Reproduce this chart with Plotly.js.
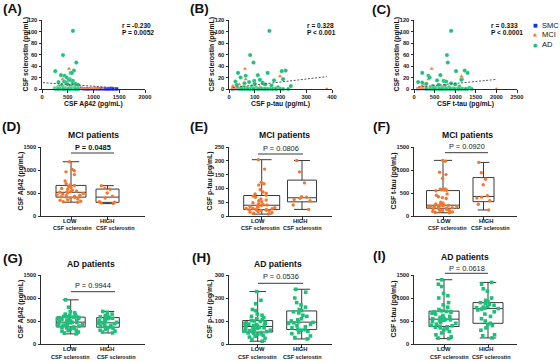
<!DOCTYPE html>
<html>
<head>
<meta charset="utf-8">
<script src="https://cdn.plot.ly/plotly-3.0.1.min.js"></script>
<style>
  html, body { margin: 0; padding: 0; background: #fff; }
  #chart { width: 560px; height: 361px; }
</style>
</head>
<body>
<div id="chart"></div>
<script>
// ---------- Correlation panels: per-patient CSF values ----------
const smcSclerostin = [0,0,1,0,0,0.5,0,0,0,1,0,0,0,0,0.5,0,0,0,0,0,1,0,0,0,0];
const smcAb42 = [620,700,760,820,860,900,930,960,990,1020,1050,1080,1110,1140,1170,1200,1230,1260,1290,1320,1350,1380,1450,880,1000];
const smcPtau = [16,18,20,22,24,26,28,30,32,34,36,38,40,42,44,46,48,50,52,55,58,25,33,41,47];
const smcTtau = [100,120,140,160,180,200,220,240,260,280,300,320,340,360,380,400,130,170,210,250,290,330,150,190,230];

const mciSclerostin = [35,22,17,8,5,4,3,2,2,1, 0,0,0,0,0,0,0,0,0,0,0,0,0,0,0,0,0,0,0,0,0,0,0,0,0,0,0,0,0,0,0,0,0,0,0];
const mciAb42 = [524,440,400,380,350,520,300,600,450,700, 320,350,380,400,420,450,480,500,520,550,580,600,640,680,720,760,800,850,900,950,1000,1050,1100,1180,330,370,460,530,620,700,430,560,660,980,1010];
const mciPtau = [62,198,65,40,15,120,25,180,50,90, 18,22,26,30,34,38,42,46,50,55,60,70,80,85,95,110,115,120,160,170,200,380,24,28,32,36,44,48,52,58,62,75,100,130,140];
const mciTtau = [430,1150,350,250,200,600,150,900,300,500, 90,110,130,150,170,190,210,230,260,290,320,360,400,450,500,560,580,700,900,950,1190,2000,120,140,160,180,200,220,250,280,300,340,380,550,1200];

const adSclerostin = [101,59,46,32,31,28,28,24,23,20,17,16,15,14,13,12,11,10,9,8,7,6,5,4,3,3,2,2,1,1, 0,0,0,0,0,0,0,0,0,0,0,0,0,0,0,0,0,0,0,0,0,0,0,0,0,0,0,0,0,0];
const adAb42 = [600,408,666,620,258,557,580,370,440,480,540,520,560,600,430,320,470,600,650,500,700,380,550,330,640,420,300,580,460,250, 260,280,300,320,340,360,380,400,420,440,460,480,500,520,540,560,580,600,620,640,660,680,700,350,450,550,650,310,410,510];
const adPtau = [157,82,95,220,205,35,150,112,65,45,210,120,175,98,25,78,130,60,100,140,30,165,240,88,55,190,70,105,48,125, 40,55,62,75,85,92,100,110,118,135,145,160,170,185,200,230,45,68,90,125,150,80,60,115,95,140,180,210,50,72];
const adTtau = [900,800,820,1230,1020,200,1300,640,350,380,1160,1150,560,720,780,100,200,900,300,1000,600,750,460,1100,680,850,1350,520,950,420, 300,400,450,500,550,600,650,700,750,800,850,900,950,1000,1050,1100,1200,1300,1400,1250,620,720,880,980,520,480,680,780,1150,1080];

// fitted regression lines (end points)
const ab42FitX = [20, 1450],  ab42FitY = [11, 2];
const ptauFitX = [15, 380],   ptauFitY = [2.5, 21.5];
const ttauFitX = [100, 2000], ttauFitY = [3.2, 16.7];

const corrR = ['r = -0.230', 'r = 0.328', 'r = 0.333'];
const corrP = ['P = 0.0052', 'P < 0.001', 'P < 0.0001'];
const corrXTitles = ['CSF A\u03b242 (pg/mL)', 'CSF p-tau (pg/mL)', 'CSF t-tau (pg/mL)'];
const corrYTitle = 'CSF sclerostin (pg/mL)';
const groupNames = ['SMC', 'MCI', 'AD'];

// ---------- Group comparison panels: LOW vs HIGH CSF sclerostin ----------
const mciAb42Low = [300,310,320,340,350,370,390,400,410,420,430,440,450,460,475,490,505,515,520,530,545,560,580,600,620,640,665,680,700,760,900,960,985,1010,1180];
const mciAb42High = [270,285,300,310,390,430,500,580,600,660];
const mciPtauLow = [7,10,12,14,16,18,20,21,22,23,24,25,26,27,28,30,32,34,36,38,40,42,45,48,52,55,58,62,68,72,75,80,83,87,95,112,117,122,170,204];
const mciPtauHigh = [24,40,55,60,64,68,70,120,160,201];
const mciTtauLow = [70,80,90,100,110,120,130,140,150,160,170,175,180,190,195,200,205,210,220,225,230,240,250,260,280,300,380,400,420,450,480,550,560,565,570,580,590,820,900,950,1190,1209];
const mciTtauHigh = [131,255,330,390,410,440,680,800,940,1165];
const adAb42Low = [220,240,260,280,290,300,320,340,350,360,370,380,390,400,410,420,430,440,450,460,465,470,480,490,500,510,520,530,540,550,560,570,580,585,590,600,610,620,640,650,680,700,800,960];
const adAb42High = [240,260,280,300,320,340,360,370,380,390,400,420,440,450,460,470,490,510,530,550,560,570,580,590,600,620,650,690,707];
const adPtauLow = [12,20,25,30,34,38,42,44,46,48,50,52,54,56,58,60,62,64,66,68,70,72,74,76,78,80,82,84,86,88,90,92,95,98,100,102,105,110,115,120,125,130,145,150,175,190,228];
const adPtauHigh = [22,28,35,45,50,55,60,62,65,70,75,80,85,90,92,94,96,100,105,110,120,125,135,140,145,150,160,170,180,200,225,238];
const adTtauLow = [117,130,160,200,240,270,300,330,350,365,375,385,395,410,430,450,470,490,505,515,525,530,540,550,560,580,600,620,650,670,690,700,705,710,720,750,800,850,900,1000,1050,1100,1250,1300,1397];
const adTtauHigh = [132,180,200,300,350,400,420,450,500,550,600,650,700,740,760,770,780,790,800,820,840,860,880,900,920,950,1000,1150,1200,1300,1339];

const compTitles = ['MCI patients', 'MCI patients', 'MCI patients', 'AD patients', 'AD patients', 'AD patients'];
const compPValues = ['P = 0.0485', 'P = 0.0806', 'P = 0.0920', 'P = 0.9944', 'P = 0.0536', 'P = 0.0618'];
const compYTitles = ['CSF A\u03b242 (pg/mL)', 'CSF p-tau (pg/mL)', 'CSF t-tau (pg/mL)',
                     'CSF A\u03b242 (pg/mL)', 'CSF p-tau (pg/mL)', 'CSF t-tau (pg/mL)'];
const compLevels = ['LOW', 'HIGH'];
const compLevelSub = 'CSF sclerostin';
const panelLetters = ['(A)', '(B)', '(C)', '(D)', '(E)', '(F)', '(G)', '(H)', '(I)'];

// ---------- styling ----------
const W = 560, H = 361;
const FONT = 'Liberation Sans, Arial, sans-serif';
const INK = '#2b2b2b';
const COL = { SMC: '#1e2fd6', MCI: '#f4762e', AD: '#1dbf7a' };
const fx = p => p / W;
const fy = p => 1 - p / H;

// plot-area frames in pixels: [left, right], [top, bottom]
const frames = [
  { x: [42, 145],  y: [20, 89] },
  { x: [229, 332], y: [20, 89] },
  { x: [414, 517], y: [20, 89] },
  { x: [41, 145],  y: [147, 216] },
  { x: [229, 332], y: [147, 216] },
  { x: [414, 517], y: [147, 216] },
  { x: [41, 145],  y: [275, 344] },
  { x: [229, 332], y: [275, 344] },
  { x: [414, 517], y: [275, 344] }
];

const axId = i => (i === 0 ? '' : String(i + 1));

function baseAxis(frameRange, isX) {
  return {
    domain: isX ? [fx(frameRange[0]), fx(frameRange[1])] : [fy(frameRange[1]), fy(frameRange[0])],
    showline: true, linecolor: INK, linewidth: 1,
    ticks: 'outside', ticklen: 2.5, tickwidth: 1, tickcolor: INK,
    showgrid: false, zeroline: false, autorange: false, fixedrange: true,
    tickfont: { family: FONT, size: 5.8, color: '#222', weight: 'bold' }
  };
}

const layout = {
  width: W, height: H,
  margin: { l: 0, r: 0, t: 0, b: 0 },
  paper_bgcolor: '#fff', plot_bgcolor: 'rgba(0,0,0,0)',
  showlegend: false, boxmode: 'overlay',
  annotations: [], shapes: []
};

// axes for all nine panels
const corrXRanges = [[0, 2000, 500], [0, 400, 100], [0, 2500, 500]];
const compYRanges = [[0, 1500, 500], [0, 250, 50], [0, 1500, 500], [0, 1500, 500], [0, 300, 100], [0, 1500, 500]];
// box layout per comparison panel: category centres (px) and box widths (px)
const boxGeom = [
  { c: [71, 107.5],  w: [30, 23] },
  { c: [261.7, 302], w: [36, 29] },
  { c: [443, 483.5], w: [33, 21] },
  { c: [70.7, 108],  w: [29, 22.6] },
  { c: [257.7, 301.7], w: [30, 30] },
  { c: [444, 488],   w: [30, 30] }
];
// category label placement (px): word centres, sub-label centres, rows
const levelGeom = [
  { word: [70, 107.5],  sub: [72, 115.5],  y: [221, 228] },
  { word: [258, 300.5], sub: [260.5, 302], y: [221, 228] },
  { word: [444, 486],   sub: [447, 490],   y: [221, 228] },
  { word: [70, 107],    sub: [70.5, 116],  y: [349, 356.5] },
  { word: [257.5, 300.5], sub: [257, 302], y: [349, 356.5] },
  { word: [444, 486],   sub: [449, 491],   y: [349, 356.5] }
];

for (let i = 0; i < 9; i++) {
  const f = frames[i];
  const xa = baseAxis(f.x, true), ya = baseAxis(f.y, false);
  xa.anchor = 'y' + axId(i); ya.anchor = 'x' + axId(i);
  if (i < 3) {
    const r = corrXRanges[i];
    xa.range = [r[0], r[1]]; xa.tick0 = 0; xa.dtick = r[2];
    ya.range = [0, 120]; ya.tick0 = 0; ya.dtick = 20;
  } else {
    const k = i - 3, g = boxGeom[k];
    const s = g.c[1] - g.c[0];
    xa.range = [-(g.c[0] - f.x[0]) / s, 1 + (f.x[1] - g.c[1]) / s];
    xa.tickvals = [0, 1];
    xa.showticklabels = false;
    const r = compYRanges[k];
    ya.range = [r[0], r[1]]; ya.tick0 = 0; ya.dtick = r[2];
  }
  layout['xaxis' + axId(i)] = xa;
  layout['yaxis' + axId(i)] = ya;
}

// ---------- traces ----------
const traces = [];
const corrSets = [
  { SMC: smcAb42, MCI: mciAb42, AD: adAb42, fx: ab42FitX, fy: ab42FitY },
  { SMC: smcPtau, MCI: mciPtau, AD: adPtau, fx: ptauFitX, fy: ptauFitY },
  { SMC: smcTtau, MCI: mciTtau, AD: adTtau, fx: ttauFitX, fy: ttauFitY }
];
const sclByGroup = { SMC: smcSclerostin, MCI: mciSclerostin, AD: adSclerostin };
const symByGroup = { SMC: 'square', MCI: 'triangle-up', AD: 'circle' };
const sizeByGroup = { SMC: 3.6, MCI: 4, AD: 4.2 };

corrSets.forEach((set, i) => {
  const xa = 'x' + axId(i), ya = 'y' + axId(i);
  groupNames.forEach(g => {
    traces.push({
      type: 'scatter', mode: 'markers', name: g, xaxis: xa, yaxis: ya,
      x: set[g], y: sclByGroup[g], cliponaxis: false,
      marker: { color: COL[g], symbol: symByGroup[g], size: sizeByGroup[g],
                line: { width: 0.4, color: 'rgba(255,255,255,0.6)' } }
    });
  });
  traces.push({
    type: 'scatter', mode: 'lines', xaxis: xa, yaxis: ya,
    x: set.fx, y: set.fy, line: { color: '#555', width: 1, dash: '2px,1.6px' },
    hoverinfo: 'skip'
  });
});

function quartile(sorted, p) {
  const n = sorted.length, pos = (n + 1) * p;
  if (pos <= 1) return sorted[0];
  if (pos >= n) return sorted[n - 1];
  const lo = Math.floor(pos), frac = pos - lo;
  return sorted[lo - 1] + frac * (sorted[lo] - sorted[lo - 1]);
}

function addBox(values, pos, width, color, symbol, size, xa, ya) {
  const s = values.slice().sort((a, b) => a - b);
  traces.push({
    type: 'box', xaxis: xa, yaxis: ya, x: [pos],
    q1: [quartile(s, 0.25)], median: [quartile(s, 0.5)], q3: [quartile(s, 0.75)],
    lowerfence: [s[0]], upperfence: [s[s.length - 1]],
    width: width, whiskerwidth: 0.55, boxpoints: false,
    fillcolor: '#fff', line: { color: '#3a3a3a', width: 1 }, hoverinfo: 'skip'
  });
  traces.push({
    type: 'box', xaxis: xa, yaxis: ya, y: values, x0: pos,
    width: width, boxpoints: 'all', jitter: 0.95, pointpos: 0,
    fillcolor: 'rgba(0,0,0,0)', line: { color: 'rgba(0,0,0,0)', width: 0 },
    marker: { color: color, symbol: symbol, size: size }, hoveron: 'points'
  });
}

const compSets = [
  [mciAb42Low, mciAb42High, 'MCI'], [mciPtauLow, mciPtauHigh, 'MCI'], [mciTtauLow, mciTtauHigh, 'MCI'],
  [adAb42Low, adAb42High, 'AD'],    [adPtauLow, adPtauHigh, 'AD'],    [adTtauLow, adTtauHigh, 'AD']
];
compSets.forEach((set, k) => {
  const i = k + 3, g = boxGeom[k];
  const s = g.c[1] - g.c[0];
  const xa = 'x' + axId(i), ya = 'y' + axId(i);
  const grp = set[2];
  const sym = grp === 'AD' ? 'square' : 'circle';
  const sz = grp === 'AD' ? 3.6 : 3.4;
  addBox(set[0], 0, g.w[0] / s, COL[grp], sym, sz, xa, ya);
  addBox(set[1], 1, g.w[1] / s, COL[grp], sym, sz, xa, ya);
});

// ---------- text and decorations ----------
function note(text, x, y, opts) {
  layout.annotations.push(Object.assign({
    text: text, x: fx(x), y: fy(y), xref: 'paper', yref: 'paper',
    showarrow: false, xanchor: 'center', yanchor: 'middle', borderpad: 0,
    font: { family: FONT, size: 7, color: '#111' }
  }, opts || {}));
}
const bold = (size) => ({ family: FONT, size: size, color: '#111', weight: 'bold' });

// panel letters
const letterPos = [[2, 9], [189, 8], [371, 10], [1, 126], [189, 127], [372, 127], [2, 258], [191, 257], [372, 255]];
panelLetters.forEach((t, i) => note(t, letterPos[i][0], letterPos[i][1], { xanchor: 'left', font: bold(13.5) }));

// correlation panels: axis titles and statistics
const corrStatX = [121, 306, 490];
const corrYTitleX = [25, 211, 396];
for (let i = 0; i < 3; i++) {
  const f = frames[i];
  note(corrXTitles[i], (f.x[0] + f.x[1]) / 2, 104, { font: bold(6.8) });
  note(corrYTitle, corrYTitleX[i], (f.y[0] + f.y[1]) / 2, { textangle: -90, font: bold(6.8) });
  note(corrR[i], corrStatX[i], 25, { xanchor: 'left', font: bold(6.6) });
  note(corrP[i], corrStatX[i], 32, { xanchor: 'left', font: bold(6.6) });
}

// legend
const legendY = [25, 34.5, 44.5];
const legendGlyph = ['\u25a0', '\u25b2', '\u25cf'];
groupNames.forEach((g, j) => {
  note(legendGlyph[j], 535, legendY[j], { font: { family: 'DejaVu Sans', size: 5, color: COL[g] } });
  note(g, 541, legendY[j], { xanchor: 'left', font: { family: FONT, size: 7.5, color: '#111' } });
});

// comparison panels: titles, y titles, category labels, significance brackets
const titlePos = [[94, 135], [284, 135], [467, 135], [91, 264], [278, 264], [465, 257]];
const compYTitleX = [20, 209, 393, 20, 209, 393];
const bracket = [
  { x: [71, 114], y: 153,   ty: 147 },
  { x: [258, 303], y: 154,  ty: 148 },
  { x: [445, 488], y: 152.7, ty: 146.7 },
  { x: [71, 115], y: 291.7, ty: 285.7 },
  { x: [258, 303], y: 283.3, ty: 276.7 },
  { x: [445, 488], y: 273.3, ty: 268.5 }
];
for (let k = 0; k < 6; k++) {
  const f = frames[k + 3], lg = levelGeom[k];
  note(compTitles[k], titlePos[k][0], titlePos[k][1], { font: bold(8.6) });
  note(compYTitles[k], compYTitleX[k], (f.y[0] + f.y[1]) / 2, { textangle: -90, font: bold(6.8) });
  for (let c = 0; c < 2; c++) {
    note(compLevels[c], lg.word[c], lg.y[0], { font: bold(5.8) });
    note(compLevelSub, lg.sub[c], lg.y[1], { font: bold(5.5) });
  }
  const b = bracket[k];
  layout.shapes.push({
    type: 'line', xref: 'paper', yref: 'paper',
    x0: fx(b.x[0]), x1: fx(b.x[1]), y0: fy(b.y), y1: fy(b.y),
    line: { color: '#3a3a3a', width: 1 }
  });
  note(compPValues[k], (b.x[0] + b.x[1]) / 2, b.ty,
       { font: k === 0 ? bold(7.4) : { family: FONT, size: 7.4, color: '#222' } });
}

Plotly.newPlot('chart', traces, layout, { staticPlot: true, displayModeBar: false });
</script>
</body>
</html>
